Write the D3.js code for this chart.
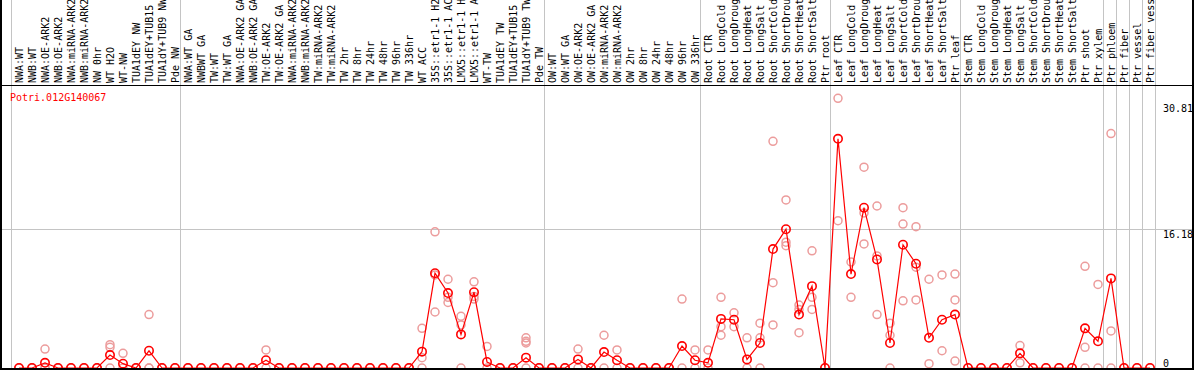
<!DOCTYPE html>
<html><head><meta charset="utf-8">
<script src="https://cdn.jsdelivr.net/npm/d3@7"></script>
<style>
body{margin:0;background:#fff}
svg{display:block}
text{font-family:"DejaVu Sans Mono",monospace;font-size:10px}
</style>
</head><body>
<svg id="c" width="1194" height="370"></svg>
<script>
const geneId = "Potri.012G140067";
const yTicks = [0, 16.18, 30.81];

// column labels per group
const labelsNW = ["NWA:WT","NWB:WT","NWA:OE-ARK2","NWB:OE-ARK2","NWA:miRNA-ARK2","NWB:miRNA-ARK2","NW 0hr","WT H2O","WT-NW","TUA1dEY NW","TUA1dEY+TUB15","TUA1dY+TUB9 NW","Pde NW"];
const labelsTW = ["NWA:WT GA","NWBWT GA","TW:WT","TW:WT GA","NWA:OE-ARK2 GA","NWB:OE-ARK2 GA","TW:OE-ARK2","TW:OE-ARK2 GA","NWA:miRNA-ARK2","NWB:miRNA-ARK2","TW:miRNA-ARK2","TW:miRNA-ARK2","TW 2hr","TW 8hr","TW 24hr","TW 48hr","TW 96hr","TW 336hr","WT ACC","35S::etr1-1 H2","35S::etr1-1 AC","LMX5::etr1-1 H","LMX5::etr1-1 A","WT-TW","TUA1dEY TW","TUA1dEY+TUB15","TUA1dY+TUB9 TW","Pde TW"];
const labelsOW = ["OW:WT","OW:WT GA","OW:OE-ARK2","OW:OE-ARK2 GA","OW:miRNA-ARK2","OW:miRNA-ARK2","OW 2hr","OW 8hr","OW 24hr","OW 48hr","OW 96hr","OW 336hr"];
const labelsRoot = ["Root CTR","Root LongCold","Root LongDroug","Root LongHeat","Root LongSalt","Root ShortCold","Root ShortDrou","Root ShortHeat","Root ShortSalt","Ptr root"];
const labelsLeaf = ["Leaf CTR","Leaf LongCold","Leaf LongDroug","Leaf LongHeat","Leaf LongSalt","Leaf ShortCold","Leaf ShortDrou","Leaf ShortHeat","Leaf ShortSalt","Ptr leaf"];
const labelsStem = ["Stem CTR","Stem LongCold","Stem LongDroug","Stem LongHeat","Stem LongSalt","Stem ShortCold","Stem ShortDrou","Stem ShortHeat","Stem ShortSalt","Ptr shoot","Ptr xylem"];
const labelsPhloem = ["Ptr phloem"];
const labelsFiber = ["Ptr fiber"];
const labelsVessel = ["Ptr vessel"];
const labelsFiberVessel = ["Ptr fiber vess"];

// mean expression per column
const meansNW = [0,0,0.6,0,0,0,0,1.5,0.5,0,2.0,0,0];
const meansTW = [0,0,0,0,0,0,0.9,0,0,0,0,0,0,0,0,0,0,0,1.9,11.0,8.7,3.9,8.8,0.7,0,0,1.2,0];
const meansOW = [0,0,1.0,0,1.85,0.9,0,0,0,0,2.55,0.9];
const meansRoot = [0.6,5.7,5.6,1.0,2.9,13.8,16.1,6.2,9.5,0];
const meansLeaf = [26.6,10.9,18.6,12.6,2.9,14.3,12.1,3.5,5.6,6.2];
const meansStem = [0,0,0,0,1.7,0,0,0,0,4.6,3.1];
const meansPhloem = [10.4];
const meansFiber = [0];
const meansVessel = [0];
const meansFiberVessel = [0];

// replicate values per column
const repsNW = [[0,0],[0,0],[2.2,0,0],[0,0],[0,0],[0,0],[0,0],[2.7,2.4,0],[1.7,0],[0,0],[6.2,0,0],[0,0],[0,0]];
const repsTW = [[0,0],[0,0],[0,0],[0,0],[0,0],[0,0],[2.1,0],[0,0],[0,0],[0,0],[0,0],[0,0],[0,0],[0,0],[0,0],[0,0],[0,0],[0,0],[4.6,1.2,0],[15.8,10.8,6.5],[8.2,7.6,10.3],[6.0,5.0,0],[10.0,8.3,8.0],[2.5,0],[0,0],[0,0],[3.5,3.1,2.9,0],[0,0]];
const repsOW = [[0,0],[0,0],[2.2,0],[0,0],[3.8,0],[2.1,0],[0,0],[0,0],[0,0],[0,0],[8.0,0],[2.1,0]];
const repsRoot = [[2.1,0],[8.2,4.8,3.8],[6.4,4.8],[3.5,0],[5.2,3.5,0],[26.3,9.9,5.0],[19.5,14.6,14.2],[7.3,6.8,4.1],[13.6,8.2,6.8],[0]];
const repsLeaf = [[31.3,17.1],[12.3,8.2],[23.3,18.0,14.4],[18.8,13.0,6.2],[5.2,3.8,0],[18.6,16.7,7.8],[16.4,11.7,7.9],[10.3,0.5],[10.8,2.0],[10.9,7.9,0.8]];
const repsStem = [[0],[0],[0],[0],[2.6,0.6],[0],[0],[0],[0],[11.8,2.4,0],[9.7,0]];
const repsPhloem = [[27.2,4.3,0]];
const repsFiber = [[0]];
const repsVessel = [[0]];
const repsFiberVessel = [[0]];

const groups = [
  {labels: labelsNW, means: meansNW, reps: repsNW},
  {labels: labelsTW, means: meansTW, reps: repsTW},
  {labels: labelsOW, means: meansOW, reps: repsOW},
  {labels: labelsRoot, means: meansRoot, reps: repsRoot},
  {labels: labelsLeaf, means: meansLeaf, reps: repsLeaf},
  {labels: labelsStem, means: meansStem, reps: repsStem},
  {labels: labelsPhloem, means: meansPhloem, reps: repsPhloem},
  {labels: labelsFiber, means: meansFiber, reps: repsFiber},
  {labels: labelsVessel, means: meansVessel, reps: repsVessel},
  {labels: labelsFiberVessel, means: meansFiberVessel, reps: repsFiberVessel}
];

const cols = [];
const groupStarts = [];
groups.forEach(g => {
  groupStarts.push(cols.length);
  g.labels.forEach((l, k) => cols.push({label: l, mean: g.means[k], reps: g.reps[k]}));
});
const N = cols.length;

const W = 1194, H = 370;
const svg = d3.select("#c");
const x = d3.scaleBand().domain(d3.range(N)).range([11.5, 1155.5]);
const cx = i => x(i) + 7.5;
const y = d3.scaleLinear().domain([0, 30.81]).range([368, 102.5]);

const grid = "#c4c4c4";
// vertical group gridlines
svg.append("g").selectAll("line").data(groupStarts.map(s => x(s)).concat([x(N - 1) + x.bandwidth()]))
  .join("line").attr("x1", d => d).attr("x2", d => d).attr("y1", 0).attr("y2", H)
  .attr("stroke", grid).attr("stroke-width", 1);
// horizontal gridline
svg.append("line").attr("x1", 0).attr("x2", W).attr("y1", Math.round(y(16.18)) + 0.5).attr("y2", Math.round(y(16.18)) + 0.5)
  .attr("stroke", grid).attr("stroke-width", 1);

// header line
svg.append("line").attr("x1", 0).attr("x2", W).attr("y1", 85.5).attr("y2", 85.5).attr("stroke", "#000");

// column labels
svg.append("g").selectAll("text").data(cols).join("text")
  .attr("transform", (d, i) => `translate(${cx(i) + 0.5},83) rotate(-90)`)
  .attr("text-anchor", "start")
  .attr("dy", "0.35em")
  .attr("x", 0)
  .text(d => d.label);

// gene id
svg.append("text").attr("x", 10).attr("y", 101).attr("fill", "#ff0000").text(geneId);

// replicates
const repPts = [];
cols.forEach((c, i) => c.reps.forEach(v => repPts.push({i, v})));
svg.append("g").selectAll("circle").data(repPts).join("circle")
  .attr("cx", d => cx(d.i)).attr("cy", d => y(d.v)).attr("r", 4)
  .attr("fill", "none").attr("stroke", "#ec9c9c").attr("stroke-width", 1.5);

// mean line
svg.append("path").datum(cols)
  .attr("d", d3.line().x((d, i) => cx(i)).y(d => y(d.mean)))
  .attr("fill", "none").attr("stroke", "#ff0000").attr("stroke-width", 1.2);

svg.append("g").selectAll("circle").data(cols).join("circle")
  .attr("cx", (d, i) => cx(i)).attr("cy", d => y(d.mean)).attr("r", 4.2)
  .attr("fill", "none").attr("stroke", "#ff0000").attr("stroke-width", 1.6);

// y axis labels (right side)
const yAxis = d3.axisRight(y).tickValues(yTicks).tickSize(0).tickFormat(d => d === 0 ? "0" : d3.format(".2f")(d));
const ya = svg.append("g").attr("transform", "translate(1163,0)").call(yAxis);
ya.select(".domain").remove();
ya.selectAll("text").attr("x", 0).attr("dy", null).attr("text-anchor", "start")
  .attr("font-family", "DejaVu Sans Mono, monospace").attr("font-size", 10).attr("fill", "#000")
  .attr("y", d => d === 0 ? -2 : 8.5);

// frame
svg.append("line").attr("x1", 1).attr("x2", 1).attr("y1", 0).attr("y2", H).attr("stroke", "#000").attr("stroke-width", 2);
svg.append("line").attr("x1", 1193).attr("x2", 1193).attr("y1", 0).attr("y2", H).attr("stroke", "#000").attr("stroke-width", 2);
svg.append("line").attr("x1", 0).attr("x2", W).attr("y1", 369).attr("y2", 369).attr("stroke", "#000").attr("stroke-width", 2);
</script>
</body></html>
